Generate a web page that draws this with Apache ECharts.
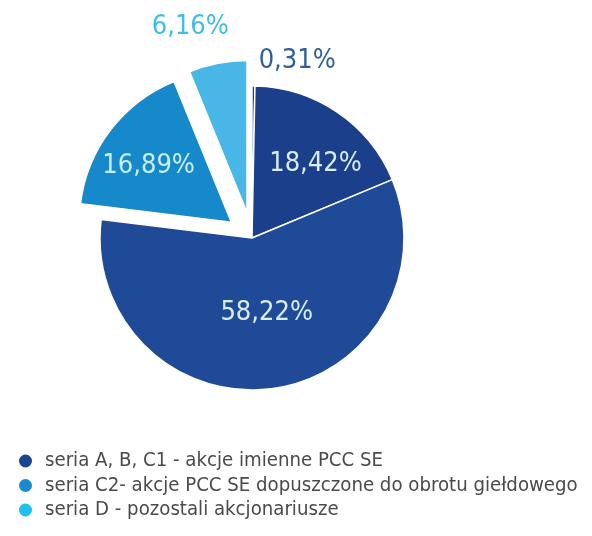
<!DOCTYPE html>
<html>
<head>
<meta charset="utf-8">
<script src="https://cdn.jsdelivr.net/npm/echarts@6/dist/echarts.min.js"></script>
<style>
html,body{margin:0;padding:0;background:#fff;}
#c{width:592px;height:536px;}
</style>
</head>
<body>
<div id="c"></div>
<script>
// slices in clockwise order from 12 o'clock
const sliceNames = [
  'udział 0,31%',
  'udział 18,42%',
  'seria A, B, C1 - akcje imienne PCC SE',
  'seria C2- akcje PCC SE dopuszczone do obrotu giełdowego',
  'seria D - pozostali akcjonariusze'
];
const sliceValues = [0.31, 18.42, 58.22, 16.89, 6.16];
const sliceExploded = [false, false, false, true, true];

const legendNames = [
  'seria A, B, C1 - akcje imienne PCC SE',
  'seria C2- akcje PCC SE dopuszczone do obrotu giełdowego',
  'seria D - pozostali akcjonariusze'
];

// styles
const FONT = "'DejaVu Sans Condensed', 'Liberation Sans', sans-serif";
const sliceColors = ['#1c3f88', '#1b3f8a', '#1e4a97', '#1589c9', '#48b6e6'];
const labelColors = ['#2f5f9a', '#d8ecfa', '#d8ecfa', '#c9eefc', '#3dbde9'];
const labelPos = ['outside', 'inside', 'inside', 'inside', 'outside'];
const labelShift = [[-30, -10], [19, -9], [4, -3], [-20, -8], [49, -22]];
const legendColors = ['#1a4590', '#1a8ac9', '#1ec0ee'];

const fmt = v => v.toFixed(2).replace('.', ',') + '%';

const chart = echarts.init(document.getElementById('c'));
chart.setOption({
  animation: false,
  backgroundColor: '#ffffff',
  legend: {
    orient: 'vertical',
    left: 12,
    top: 444,
    itemGap: 0.5,
    itemWidth: 15,
    itemHeight: 15,
    icon: 'circle',
    selectedMode: false,
    data: legendNames.map((n, i) => ({ name: n, itemStyle: { color: legendColors[i] } })),
    textStyle: {
      fontFamily: FONT,
      fontSize: 20.2,
      color: '#4a4a4a',
      lineHeight: 24,
      padding: [0, 0, 0, 7]
    }
  },
  series: [{
    type: 'pie',
    center: [252, 238],
    radius: 152,
    startAngle: 90,
    clockwise: true,
    selectedMode: 'multiple',
    selectedOffset: 26,
    avoidLabelOverlap: false,
    emphasis: { disabled: true },
    itemStyle: { borderColor: '#ffffff', borderWidth: 1.5 },
    labelLine: { show: false },
    labelLayout: p => ({ dx: labelShift[p.dataIndex][0], dy: labelShift[p.dataIndex][1] }),
    data: sliceValues.map((v, i) => ({
      name: sliceNames[i],
      value: v,
      selected: sliceExploded[i],
      itemStyle: { color: sliceColors[i] },
      label: {
        show: true,
        position: labelPos[i],
        formatter: () => fmt(v),
        color: labelColors[i],
        fontFamily: FONT,
        fontSize: 27
      },
      labelLine: { show: false }
    }))
  }]
});
</script>
</body>
</html>
